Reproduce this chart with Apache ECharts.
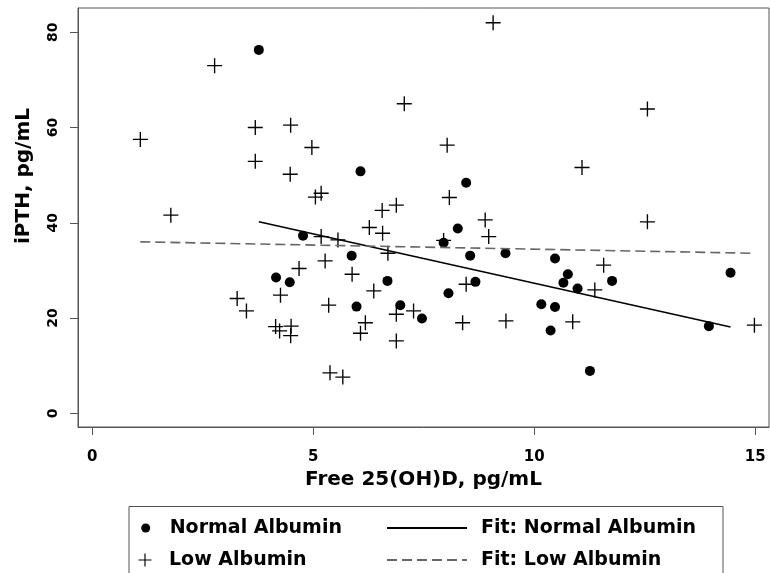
<!DOCTYPE html>
<html>
<head>
<meta charset="utf-8">
<script src="https://cdn.jsdelivr.net/npm/echarts@6/dist/echarts.min.js"></script>
<style>html,body{margin:0;padding:0;background:#fff;}#c{width:770px;height:573px;}</style>
</head>
<body>
<div id="c"></div>
<script>
// Normal Albumin (dots)
const normalX = [3.77, 6.07, 8.46, 8.27, 4.77, 5.87, 4.16, 4.47, 6.68, 5.98, 6.97, 7.46, 7.95, 8.55, 9.35, 10.47, 10.76, 10.66, 10.98, 11.76, 14.44, 8.67, 8.06, 10.16, 10.47, 10.37, 11.26, 13.95];
const normalY = [76.3, 50.8, 48.4, 38.8, 37.3, 33.1, 28.5, 27.5, 27.8, 22.4, 22.7, 19.9, 35.8, 33.1, 33.6, 32.5, 29.2, 27.4, 26.2, 27.8, 29.5, 27.6, 25.2, 22.9, 22.3, 17.4, 8.9, 18.3];
// Low Albumin (plus)
const lowX = [1.09, 2.77, 3.69, 4.49, 4.97, 3.69, 4.48, 5.05, 5.18, 1.78, 6.56, 6.88, 7.06, 9.07, 12.56, 8.03, 11.08, 8.08, 8.89, 12.56, 6.27, 5.18, 5.56, 6.57, 6.69, 5.27, 4.68, 5.88, 6.37, 4.26, 3.28, 3.49, 5.35, 6.88, 6.18, 6.07, 4.15, 4.24, 4.50, 4.49, 6.88, 5.38, 5.67, 8.97, 7.95, 11.57, 11.37, 8.46, 8.38, 9.36, 10.87, 14.98, 7.27];
const lowY = [57.5, 73.0, 60.0, 60.5, 55.8, 52.9, 50.2, 45.4, 46.2, 41.6, 42.6, 43.7, 65.0, 82.0, 63.9, 56.3, 51.6, 45.3, 40.6, 40.2, 39.0, 37.1, 36.4, 37.8, 33.6, 32.0, 30.4, 29.2, 25.7, 24.8, 24.1, 21.5, 22.7, 20.8, 19.0, 16.8, 18.2, 17.3, 18.3, 16.3, 15.2, 8.5, 7.6, 37.1, 36.3, 31.1, 25.9, 27.1, 19.0, 19.4, 19.2, 18.5, 21.5];
// Fit lines (endpoints)
const fitNormalX = [3.77, 14.44];
const fitNormalY = [40.2, 18.1];
const fitLowX = [1.09, 14.98];
const fitLowY = [36.0, 33.6];
// Ticks
const xTicks = [0, 5, 10, 15];
const yTicks = [0, 20, 40, 60, 80];

const zip = (a, b) => a.map((v, i) => [v, b[i]]);
const PLUS = 'path://M45.5,0H54.5V45.5H100V54.5H54.5V100H45.5V54.5H0V45.5H45.5Z';
const FONT = 'DejaVu Sans';
const AX = '#555';

const chart = echarts.init(document.getElementById('c'), null, {renderer: 'canvas'});
const legendText = {fontFamily: FONT, fontWeight: 'bold', fontSize: 19, color: '#000', lineHeight: 22};
const hideSym = {color: 'transparent', borderColor: 'transparent', borderWidth: 0, opacity: 0};
chart.setOption({
  animation: false,
  backgroundColor: '#fff',
  grid: {left: 78, top: 8, width: 691, height: 419, show: true, borderColor: AX, borderWidth: 1, backgroundColor: 'transparent'},
  xAxis: {
    type: 'value', min: -0.32, max: 15.31,
    name: 'Free 25(OH)D, pg/mL', nameLocation: 'middle', nameGap: 36,
    nameTextStyle: {fontFamily: FONT, fontWeight: 'bold', fontSize: 20, color: '#000'},
    splitLine: {show: false},
    axisLine: {show: true, onZero: false, lineStyle: {color: AX, width: 1}},
    axisTick: {show: true, length: 8, lineStyle: {color: AX}, customValues: xTicks},
    axisLabel: {margin: 23, fontFamily: FONT, fontWeight: 'bold', fontSize: 15, color: '#000', customValues: xTicks}
  },
  yAxis: {
    type: 'value', min: -2.88, max: 85.1,
    name: 'iPTH, pg/mL', nameLocation: 'middle', nameGap: 44,
    nameTextStyle: {fontFamily: FONT, fontWeight: 'bold', fontSize: 20, color: '#000', padding: [0, 0, 0, 83]},
    splitLine: {show: false},
    axisLine: {show: true, onZero: false, lineStyle: {color: AX, width: 1}},
    axisTick: {show: true, length: 8, lineStyle: {color: AX}, customValues: yTicks},
    axisLabel: {rotate: 90, margin: 18, fontFamily: FONT, fontWeight: 'bold', fontSize: 14, color: '#000', customValues: yTicks}
  },
  legend: [
    {data: ['Normal Albumin'], left: 141.2, top: 517, padding: 0, itemWidth: 38, itemHeight: 9, textStyle: legendText, selectedMode: false},
    {data: ['Low Albumin'], left: 138.5, top: 549, padding: 0, itemWidth: 38, itemHeight: 13, textStyle: legendText, selectedMode: false},
    {data: ['Fit: Normal Albumin'], left: 386, top: 517, padding: 0, itemWidth: 80, itemHeight: 12, itemStyle: hideSym, textStyle: Object.assign({}, legendText, {padding: [0, 0, 0, 9]}), selectedMode: false},
    {data: ['Fit: Low Albumin'], left: 386, top: 549, padding: 0, itemWidth: 80, itemHeight: 12, itemStyle: hideSym, textStyle: Object.assign({}, legendText, {padding: [0, 0, 0, 9]}), selectedMode: false}
  ],
  graphic: [{
    type: 'rect', left: 126.5, top: 504, silent: true,
    shape: {width: 594, height: 80},
    style: {fill: 'none', stroke: AX, lineWidth: 1}
  }],
  series: [
    {name: 'Normal Albumin', type: 'scatter', data: zip(normalX, normalY), symbol: 'circle', symbolSize: 10,
      itemStyle: {color: '#000', opacity: 1}, z: 3},
    {name: 'Low Albumin', type: 'scatter', data: zip(lowX, lowY), symbol: PLUS, symbolSize: 15,
      itemStyle: {color: '#000', opacity: 1}, z: 3},
    {name: 'Fit: Normal Albumin', type: 'line', data: zip(fitNormalX, fitNormalY), symbol: 'none', showSymbol: false,
      lineStyle: {color: '#000', width: 1.6, type: 'solid'}, itemStyle: {color: '#000'}, z: 4},
    {name: 'Fit: Low Albumin', type: 'line', data: zip(fitLowX, fitLowY), symbol: 'none', showSymbol: false,
      lineStyle: {color: '#666', width: 1.6, type: [10, 5]}, itemStyle: {color: '#666'}, z: 4}
  ]
});
</script>
</body>
</html>
